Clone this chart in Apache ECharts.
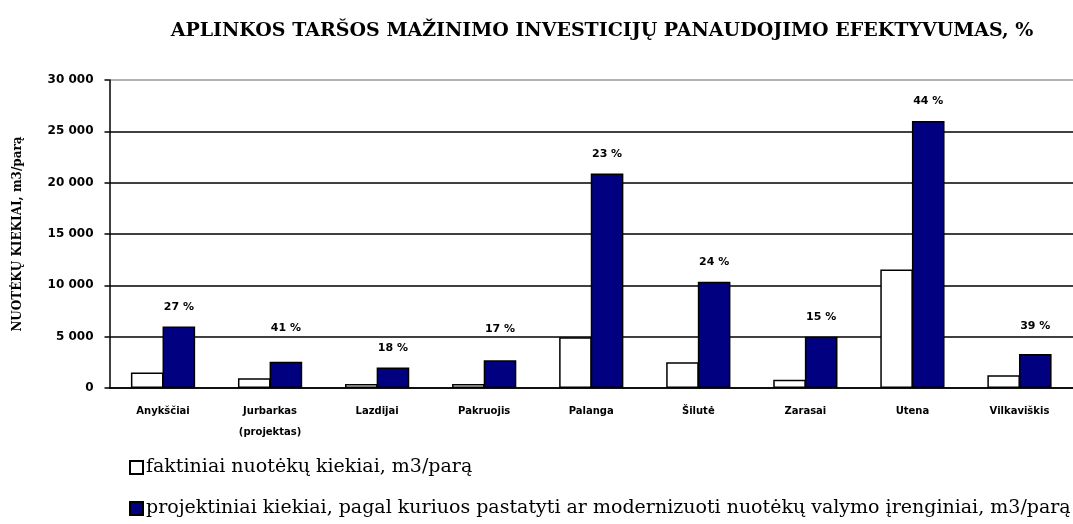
<!DOCTYPE html>
<html>
<head>
<meta charset="utf-8">
<script src="https://cdn.jsdelivr.net/npm/echarts@6/dist/echarts.min.js"></script>
<style>html,body{margin:0;padding:0;background:#fff;}#c{width:1073px;height:524px;}</style>
</head>
<body>
<div id="c"></div>
<script>
var titleText = 'APLINKOS TARŠOS MAŽINIMO INVESTICIJŲ PANAUDOJIMO EFEKTYVUMAS, %';
var yAxisTitle = 'NUOTĖKŲ KIEKIAI, m3/parą';
var categories = ['Anykščiai', 'Jurbarkas\n(projektas)', 'Lazdijai', 'Pakruojis', 'Palanga', 'Šilutė', 'Zarasai', 'Utena', 'Vilkaviškis'];
var seriesNames = ['faktiniai nuotėkų kiekiai, m3/parą', 'projektiniai kiekiai, pagal kuriuos pastatyti ar modernizuoti nuotėkų valymo įrenginiai, m3/parą'];
var faktiniai = [1500, 950, 400, 400, 4950, 2500, 800, 11550, 1250];
var projektiniai = [6000, 2550, 2000, 2700, 20900, 10350, 5000, 26000, 3300];
var efektyvumas = [27, 41, 18, 17, 23, 24, 15, 44, 39];
var labelLift = [14, 28, 14, 26, 14, 14, 14, 14, 22];

var chart = echarts.init(document.getElementById('c'), null, {renderer: 'canvas'});
var projData = projektiniai.map(function (v, i) {
  return {value: v, label: {distance: labelLift[i]}};
});
chart.setOption({
  animation: false,
  backgroundColor: '#ffffff',
  title: {
    text: titleText,
    left: 597, top: 17, textAlign: 'center',
    textStyle: {fontFamily: 'DejaVu Serif', fontWeight: 'bold', fontSize: 19, color: '#000'}
  },
  grid: {left: 109.5, right: -1.5, top: 80, bottom: 136, containLabel: false},
  legend: {
    orient: 'vertical', left: 129, top: 458, itemGap: 22, padding: 0,
    itemWidth: 13, itemHeight: 13, icon: 'rect',
    textStyle: {fontFamily: 'DejaVu Serif', fontSize: 19, color: '#000', padding: [0, 0, 0, -2]},
    data: seriesNames
  },
  xAxis: {
    type: 'category', data: categories,
    axisLine: {lineStyle: {color: '#000', width: 1.5}},
    axisTick: {length: 5, lineStyle: {color: '#000', width: 1.5}},
    axisLabel: {margin: 13, interval: 0, fontFamily: 'DejaVu Sans', fontWeight: 'bold', fontSize: 10, color: '#000', lineHeight: 21}
  },
  yAxis: {
    type: 'value', min: 0, max: 30000, interval: 5000,
    name: yAxisTitle, nameLocation: 'middle', nameRotate: 90, nameGap: 86,
    nameTextStyle: {fontFamily: 'DejaVu Serif', fontWeight: 'bold', fontSize: 12, color: '#000'},
    axisLine: {show: true, lineStyle: {color: '#000', width: 1.5}},
    axisTick: {show: true, length: 5, lineStyle: {color: '#000', width: 1.5}},
    axisLabel: {margin: 16, fontFamily: 'DejaVu Sans', fontWeight: 'bold', fontSize: 12, color: '#000',
      formatter: function (v) { return String(v).replace(/\B(?=(\d{3})+(?!\d))/g, ' '); }},
    splitLine: {show: true, lineStyle: {color: ['#000', '#000', '#000', '#000', '#000', '#000', '#999'], width: 1.5}}
  },
  series: [
    {
      name: seriesNames[0], type: 'bar', data: faktiniai,
      barGap: '-3%', barCategoryGap: '40%',
      itemStyle: {color: '#ffffff', borderColor: '#000', borderWidth: 1.5}
    },
    {
      name: seriesNames[1], type: 'bar', data: projData,
      barGap: '-3%', barCategoryGap: '40%',
      itemStyle: {color: '#000080', borderColor: '#000', borderWidth: 1.5},
      label: {show: true, position: 'top', fontFamily: 'DejaVu Sans', fontWeight: 'bold', fontSize: 11, color: '#000',
        formatter: function (p) { return efektyvumas[p.dataIndex] + ' %'; }}
    }
  ]
});
</script>
</body>
</html>
